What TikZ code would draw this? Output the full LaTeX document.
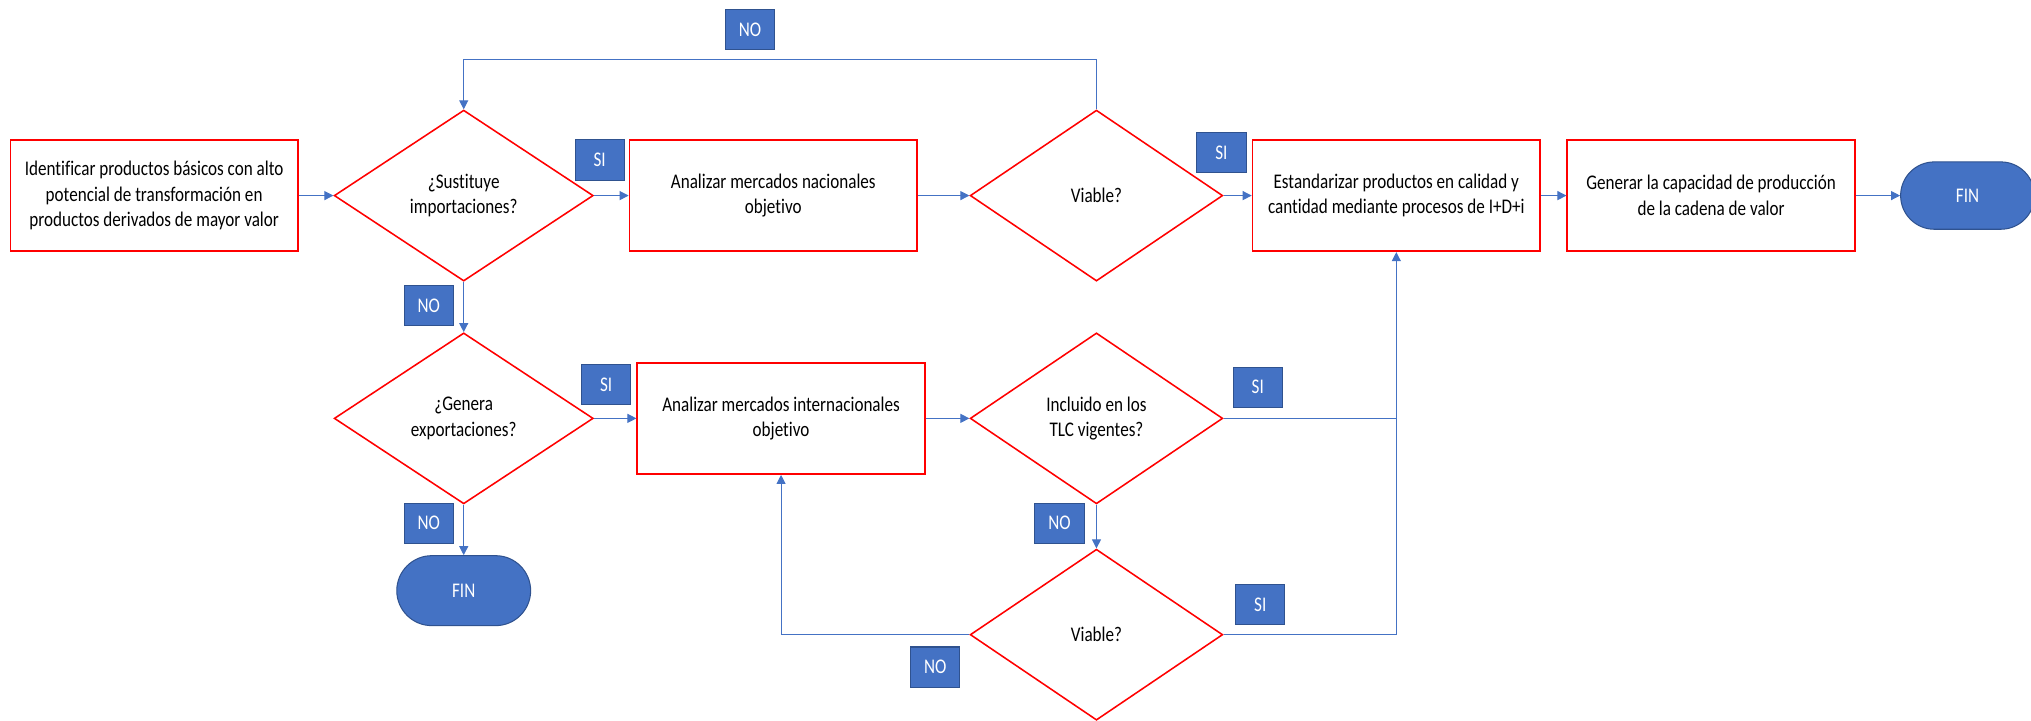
\documentclass[tikz,border=0pt]{standalone}
\usepackage{fontspec}
\setmainfont{Carlito}[FakeStretch=0.82,Ligatures=NoCommon]
\usetikzlibrary{shapes.geometric,shapes.misc,arrows.meta}
\definecolor{ored}{HTML}{FF0000}
\definecolor{oblue}{HTML}{4472C4}
\definecolor{odblue}{HTML}{2F528F}
\begin{document}
\begin{tikzpicture}[x=1pt,y=-1pt,
  every node/.style={font=\fontsize{16.1}{19.8}\selectfont},
  procbox/.style={draw=ored,line width=1.3pt,fill=white,minimum width=222pt,minimum height=86pt,align=center,inner sep=2pt},
  decis/.style={diamond,draw=ored,line width=1.2pt,fill=white,minimum height=132pt,inner sep=0pt,align=center,aspect=1.48},
  lab/.style={fill=oblue,draw=odblue,line width=0.8pt,text=white,minimum width=38pt,minimum height=31pt,inner sep=0pt},
  term/.style={rounded rectangle,fill=oblue,draw=odblue,line width=0.8pt,text=white,minimum width=110pt,minimum height=52pt},
  conn/.style={draw=oblue,line width=0.8pt},
  arr/.style={conn,-{Triangle[length=7pt,width=7pt]}}
]
\useasboundingbox (0,0) rectangle (1568,556);
% process boxes
\node[procbox] (b1) at (119,151) {Identificar productos básicos con alto\\potencial de transformación en\\productos derivados de mayor valor};
\node[procbox] (b2) at (597,151) {Analizar mercados nacionales\\objetivo};
\node[procbox] (b3) at (1078,151) {Estandarizar productos en calidad y\\cantidad mediante procesos de I+D+i};
\node[procbox] (b4) at (1321,151) {Generar la capacidad de producción\\de la cadena de valor};
\node[procbox] (b5) at (603,323) {Analizar mercados internacionales\\objetivo};
% decisions
\node[decis,minimum width=200pt] (d1) at (358,151) {¿Sustituye\\importaciones?};
\node[decis,minimum width=195pt] (d2) at (846.5,151) {Viable?};
\node[decis,minimum width=200pt] (d3) at (358,323) {¿Genera\\exportaciones?};
\node[decis,minimum width=195pt] (d4) at (846.5,323) {Incluido en los\\TLC vigentes?};
\node[decis,minimum width=195pt] (d5) at (846.5,490) {Viable?};
% terminals
\node[term] (f1) at (1519,151) {FIN};
\node[term,minimum height=54pt] (f2) at (358,456) {FIN};
% labels
\node[lab] (l1) at (463,123.5) {SI};
\node[lab] (l2) at (579,23) {NO};
\node[lab] (l3) at (943,118) {SI};
\node[lab] (l4) at (331,236) {NO};
\node[lab] (l5) at (468,297) {SI};
\node[lab] (l6) at (971,299) {SI};
\node[lab] (l7) at (331,404) {NO};
\node[lab] (l8) at (818,404) {NO};
\node[lab] (l9) at (973,467) {SI};
\node[lab] (l10) at (722,515) {NO};
% connectors
\coordinate (tp) at (846.5,46);
\coordinate (j1) at (1078,323);
\draw[arr] (b1.east) -- (d1.west);
\draw[arr] (d1.east) -- (b2.west);
\draw[arr] (b2.east) -- (d2.west);
\draw[arr] (d2.east) -- (b3.west);
\draw[arr] (b3.east) -- (b4.west);
\draw[arr] (b4.east) -- (f1.west);
\draw[arr] (d2.north) -- (tp) -| (d1.north);
\draw[arr] (d1.south) -- (d3.north);
\draw[arr] (d3.east) -- (b5.west);
\draw[arr] (d3.south) -- (f2.north);
\draw[arr] (b5.east) -- (d4.west);
\draw[arr] (d4.east) -| (b3.south);
\draw[conn] (d5.east) -| (j1);
\draw[arr] (d4.south) -- (d5.north);
\draw[arr] (d5.west) -| (b5.south);
\end{tikzpicture}
\end{document}
